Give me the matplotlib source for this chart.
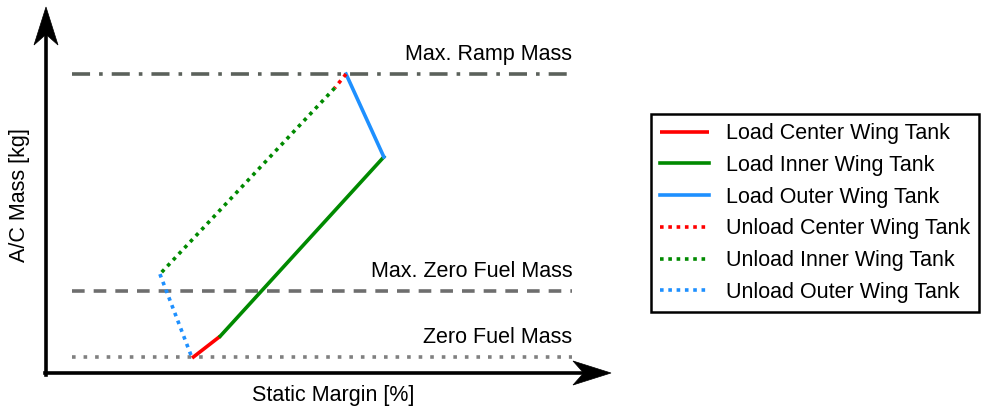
import matplotlib.pyplot as plt
from matplotlib.path import Path
from matplotlib.patches import PathPatch

plt.rcParams['font.family'] = ['Liberation Sans', 'DejaVu Sans']

# fuel loading / unloading path (static margin %, mass in arbitrary units)
load_center_x = [25.9, 30.9]
load_center_y = [4.1, 10.1]
load_inner_x = [30.9, 59.9]
load_inner_y = [10.1, 59.2]
load_outer_x = [59.9, 53.2]
load_outer_y = [59.2, 81.9]
unload_center_x = [53.2, 51.2]
unload_center_y = [81.9, 78.1]
unload_inner_x = [51.2, 20.2]
unload_inner_y = [78.1, 27.1]
unload_outer_x = [20.2, 25.9]
unload_outer_y = [27.1, 4.1]

ramp_mass = 81.9
max_zero_fuel_mass = 22.5
zero_fuel_mass = 4.4
limit_x = [4.6, 93.3]

fig = plt.figure(figsize=(9.83, 4.08), dpi=100)
ax = fig.add_axes([46 / 983, 35 / 408, 564 / 983, 365 / 408])
ax.set_xlim(0, 100)
ax.set_ylim(0, 100)
for s in ax.spines.values():
    s.set_visible(False)
ax.set_xticks([])
ax.set_yticks([])

# limit lines
ax.plot(limit_x, [ramp_mass] * 2, color='#5b615b', lw=2.6, ls=(0, (5, 2.5, 1, 2.5)))
ax.plot(limit_x, [max_zero_fuel_mass] * 2, color='#6e6e6e', lw=2.6, ls=(0, (3.5, 2.5)))
ax.plot(limit_x, [zero_fuel_mass] * 2, color='#808080', lw=2.6, ls=(0, (1, 2.2)))

fs = 15.5
ax.text(93.3, ramp_mass + 2.5, 'Max. Ramp Mass', ha='right', va='bottom', fontsize=fs)
ax.text(93.3, max_zero_fuel_mass + 2.5, 'Max. Zero Fuel Mass', ha='right', va='bottom', fontsize=fs)
ax.text(93.3, zero_fuel_mass + 2.5, 'Zero Fuel Mass', ha='right', va='bottom', fontsize=fs)

red = '#ff0000'
green = '#008a00'
blue = '#1e90ff'
lw = 2.6
ax.plot(load_center_x, load_center_y, color=red, lw=lw, label='Load Center Wing Tank', solid_capstyle='butt')
ax.plot(load_inner_x, load_inner_y, color=green, lw=lw, label='Load Inner Wing Tank')
ax.plot(load_outer_x, load_outer_y, color=blue, lw=lw, label='Load Outer Wing Tank')
ax.plot(unload_center_x, unload_center_y, color=red, lw=lw, ls=(0, (1, 1.3)), label='Unload Center Wing Tank')
ax.plot(unload_inner_x, unload_inner_y, color=green, lw=lw, ls=(0, (1, 1.3)), label='Unload Inner Wing Tank')
ax.plot(unload_outer_x, unload_outer_y, color=blue, lw=lw, ls=(0, (1, 1.3)), label='Unload Outer Wing Tank')

# axes with arrow heads
def arrow_head(tip, direction):
    # concave "stealth" head in figure fraction coordinates
    w = 983.0
    h = 408.0
    tx, ty = tip
    if direction == 'up':
        L, W = 38 / h, 12 / w
        pts = [(tx, ty), (tx + W, ty - L), (tx, ty - L * 0.72), (tx - W, ty - L), (tx, ty)]
    else:
        L, W = 38 / w, 12 / h
        pts = [(tx, ty), (tx - L, ty + W), (tx - L * 0.72, ty), (tx - L, ty - W), (tx, ty)]
    codes = [Path.MOVETO, Path.LINETO, Path.LINETO, Path.LINETO, Path.CLOSEPOLY]
    fig.patches.append(PathPatch(Path(pts, codes), transform=fig.transFigure,
                                 facecolor='black', edgecolor='black', lw=0.5))

x0, y0 = 46 / 983, (408 - 373) / 408
fig.add_artist(plt.Line2D([x0, x0], [y0 - 1.5 / 408, (408 - 20) / 408], color='black', lw=2.6,
                          transform=fig.transFigure))
fig.add_artist(plt.Line2D([x0 - 1.5 / 983, 595 / 983], [y0, y0], color='black', lw=2.6,
                          transform=fig.transFigure))
arrow_head((x0, (408 - 7) / 408), 'up')
arrow_head((611 / 983, y0), 'right')

fig.text(20 / 983, (408 - 195) / 408, 'A/C Mass [kg]', rotation=90, ha='center', va='center', fontsize=fs)
fig.text(333 / 983, (408 - 395) / 408, 'Static Margin [%]', ha='center', va='center', fontsize=fs)

leg = fig.legend(loc='center', bbox_to_anchor=(815 / 983, (408 - 213) / 408), fontsize=fs,
                 fancybox=False, edgecolor='black', framealpha=1, handlelength=2.3,
                 labelspacing=0.5, borderpad=0.4, handletextpad=0.8)
leg.get_frame().set_linewidth(1.8)

fig.savefig('out.png', dpi=100)
